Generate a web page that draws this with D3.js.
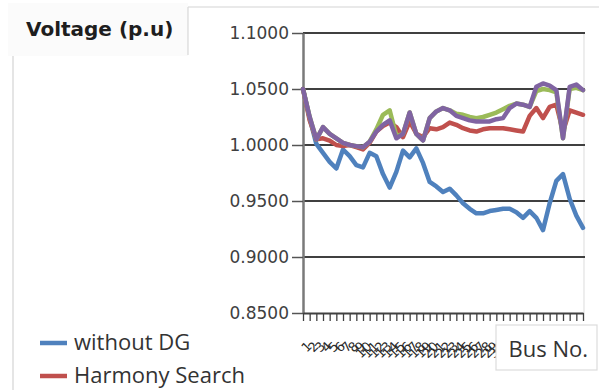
<!DOCTYPE html>
<html>
<head>
<meta charset="utf-8">
<script src="https://cdn.jsdelivr.net/npm/d3@7"></script>
<style>
  html, body { margin: 0; padding: 0; background: #fff; overflow: hidden; }
  svg { display: block; }
</style>
</head>
<body>
<svg id="chart" width="599" height="390"></svg>
<script>
// Bus numbers along the feeder
const busNumbers = ["1","2","3","4","5","6","7","8","9","10","11","12","13","14","15",
  "16","17","18","19","20","21","22","23","24","25","26","27","28","29","30",
  "31","32","33","34","35","36","37","38","39","40","41","42","43"];

// Bus voltage magnitudes (p.u.)
const withoutDG = [1.050, 1.024, 1.001, 0.993, 0.985, 0.979, 0.996, 0.990, 0.982, 0.980,
  0.993, 0.990, 0.974, 0.962, 0.976, 0.995, 0.989, 0.997, 0.984, 0.967,
  0.963, 0.958, 0.961, 0.955, 0.948, 0.943, 0.939, 0.939, 0.941, 0.942,
  0.943, 0.943, 0.940, 0.935, 0.941, 0.935, 0.924, 0.948, 0.968, 0.974,
  0.952, 0.937, 0.926];
const harmonySearch = [1.050, 1.022, 1.005, 1.006, 1.004, 1.000, 0.999, 1.000, 0.998, 0.996,
  1.002, 1.012, 1.017, 1.020, 1.016, 1.007, 1.021, 1.010, 1.007, 1.015,
  1.014, 1.016, 1.020, 1.018, 1.015, 1.013, 1.012, 1.014, 1.015, 1.015,
  1.015, 1.014, 1.013, 1.012, 1.026, 1.033, 1.024, 1.034, 1.036, 1.012,
  1.031, 1.029, 1.027];
const seriesGreen = [1.050, 1.025, 1.005, 1.016, 1.010, 1.006, 1.002, 1.000, 0.999, 0.998,
  1.003, 1.014, 1.027, 1.031, 1.008, 1.010, 1.029, 1.010, 1.004, 1.024,
  1.030, 1.033, 1.031, 1.028, 1.027, 1.025, 1.024, 1.025, 1.027, 1.029,
  1.032, 1.035, 1.037, 1.036, 1.034, 1.048, 1.050, 1.049, 1.047, 1.006,
  1.050, 1.051, 1.049];
const seriesPurple = [1.050, 1.025, 1.005, 1.016, 1.010, 1.006, 1.002, 1.000, 0.999, 0.998,
  1.003, 1.012, 1.018, 1.022, 1.006, 1.010, 1.029, 1.010, 1.004, 1.024,
  1.030, 1.033, 1.031, 1.026, 1.024, 1.022, 1.021, 1.021, 1.021, 1.023,
  1.024, 1.033, 1.037, 1.036, 1.034, 1.052, 1.055, 1.053, 1.049, 1.006,
  1.052, 1.054, 1.049];

const yTicks = [0.85, 0.90, 0.95, 1.00, 1.05, 1.10];

const legendItems = [
  { name: "without DG", color: "#4f81bd" },
  { name: "Harmony Search", color: "#c0504d" }
];

const seriesList = [
  { values: withoutDG, color: "#4f81bd" },
  { values: harmonySearch, color: "#c0504d" },
  { values: seriesGreen, color: "#9bbb59" },
  { values: seriesPurple, color: "#8064a2" }
];

const svg = d3.select("#chart");
const plot = { left: 303, right: 585, top: 33, bottom: 313 };

const x = d3.scalePoint().domain(busNumbers).range([plot.left, plot.right - 2]);
const y = d3.scaleLinear().domain([0.85, 1.10]).range([plot.bottom, plot.top]);

// Chart frame (left and top edges)
svg.append("path")
  .attr("d", "M13,390 V7 H599")
  .attr("fill", "none")
  .attr("stroke", "#d4d4d4")
  .attr("stroke-width", 1.2);

// Axis title box in the top-left corner
svg.append("rect")
  .attr("x", 8).attr("y", 3).attr("width", 180).attr("height", 53)
  .attr("fill", "#fbfbfb");
svg.append("line")
  .attr("x1", 188).attr("x2", 188).attr("y1", 7).attr("y2", 55)
  .attr("stroke", "#d8d8d8").attr("stroke-width", 1.2);
svg.append("text")
  .attr("x", 26).attr("y", 36)
  .attr("font-family", "DejaVu Sans")
  .attr("font-weight", "bold")
  .attr("font-size", 20)
  .attr("fill", "#1e1e1e")
  .text("Voltage (p.u)");

// Plot area right edge
svg.append("line")
  .attr("x1", plot.right - 1).attr("x2", plot.right - 1)
  .attr("y1", plot.top).attr("y2", plot.bottom)
  .attr("stroke", "#e2e2e2").attr("stroke-width", 1.2);

// Horizontal gridlines
svg.append("g")
  .selectAll("line")
  .data(yTicks.filter(d => d > 0.85))
  .join("line")
  .attr("x1", plot.left).attr("x2", plot.right)
  .attr("y1", d => y(d)).attr("y2", d => y(d))
  .attr("stroke", "#404040")
  .attr("stroke-width", 2);

// Y axis
const yAxis = svg.append("g")
  .attr("transform", `translate(${plot.left},0)`)
  .call(d3.axisLeft(y).tickValues(yTicks).tickFormat(d3.format(".4f"))
    .tickSize(11).tickSizeOuter(0).tickPadding(3));
yAxis.select(".domain").attr("stroke", "#7a7a7a").attr("stroke-width", 2.5);
yAxis.selectAll(".tick line").attr("stroke", "#555").attr("stroke-width", 1.5);
yAxis.selectAll("text")
  .attr("font-family", "DejaVu Sans")
  .attr("font-size", 17)
  .attr("fill", "#404040");

// X axis
const xAxis = svg.append("g")
  .attr("transform", `translate(0,${plot.bottom})`)
  .call(d3.axisBottom(x).tickSize(8).tickSizeOuter(0));
xAxis.select(".domain").attr("stroke", "#404040").attr("stroke-width", 2);
xAxis.selectAll(".tick line").attr("stroke", "#404040").attr("stroke-width", 1.3);
xAxis.selectAll("text")
  .attr("x", 0).attr("y", 0).attr("dy", "0.35em")
  .attr("text-anchor", "end")
  .attr("transform", "translate(6,31) rotate(-45)")
  .attr("font-family", "DejaVu Sans")
  .attr("font-size", 13)
  .attr("fill", "#2a2a2a");

// Voltage profiles
const line = d3.line()
  .x((d, i) => x(busNumbers[i]))
  .y(d => y(d));

svg.append("g")
  .selectAll("path")
  .data(seriesList)
  .join("path")
  .attr("d", d => line(d.values))
  .attr("fill", "none")
  .attr("stroke", d => d.color)
  .attr("stroke-width", 4.5)
  .attr("stroke-linejoin", "round")
  .attr("stroke-linecap", "round");

// Horizontal axis title box
svg.append("rect")
  .attr("x", 496).attr("y", 325).attr("width", 101).attr("height", 45)
  .attr("fill", "#fff")
  .attr("stroke", "#dcdcdc").attr("stroke-width", 1.2);
svg.append("text")
  .attr("x", 588).attr("y", 357)
  .attr("text-anchor", "end")
  .attr("font-family", "Open Sans")
  .attr("font-size", 22)
  .attr("fill", "#333")
  .text("Bus No.");

// Legend
const legend = svg.append("g")
  .selectAll("g")
  .data(legendItems)
  .join("g")
  .attr("transform", (d, i) => `translate(40,${343 + i * 33})`);
legend.append("line")
  .attr("x1", 0).attr("x2", 27)
  .attr("stroke", d => d.color)
  .attr("stroke-width", 4.5);
legend.append("text")
  .attr("x", 34).attr("y", 7)
  .attr("font-family", "Open Sans")
  .attr("font-size", 22)
  .attr("fill", "#333")
  .text(d => d.name);
</script>
</body>
</html>
